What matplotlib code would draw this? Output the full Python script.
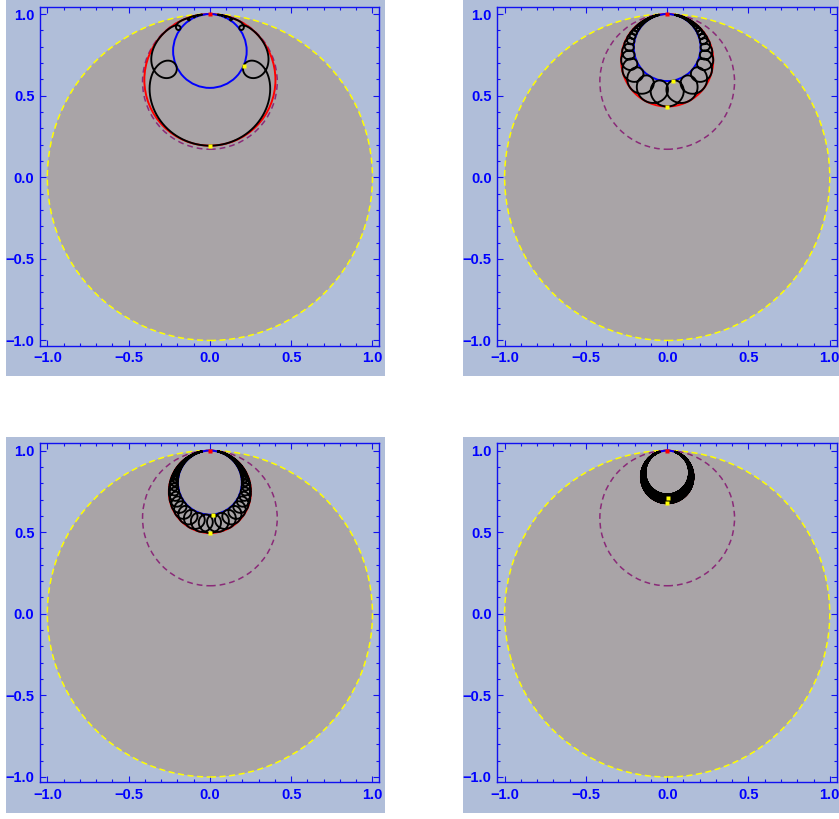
import numpy as np
import matplotlib
matplotlib.use("Agg")
import matplotlib.pyplot as plt
from matplotlib.patches import Circle, Rectangle

# ---- data: horocycle heights in the upper half-plane picture ----
red_c = [1.48, 2.53, 2.96, 5.19]      # outer horocycle (red), touched by the trace
blue_c = [3.42, 3.87, 4.09, 5.92]     # inner horocycle (blue)
top_c = [3.42, 3.87, 4.09, 6.45]      # inner envelope of the trace loops
periods = [5.8, 0.89, 0.53, 0.12]     # translation per revolution of the trace
warp = [4.0, 1.24, 1.18, 1.13]        # angular speed ratio (top vs. side) of the tracing point
purple_c = 1.4142                     # reference horocycle (dashed purple)
trace_range = 40.0                    # half range of the traced parameter

tick_major = [-1.0, -0.5, 0.0, 0.5, 1.0]
tick_labels = ["\u22121.0", "\u22120.5", "0.0", "0.5", "1.0"]
tick_minor = [round(-1.0 + 0.1 * k, 1) for k in range(21)]

BG = "#B0BED9"
DISK = "#A9A4A7"
AXBLUE = "#1010F0"
PURPLE = "#8A2A78"

plt.rcParams["font.family"] = ["Liberation Sans", "DejaVu Sans"]

W, H = 839, 819
fig = plt.figure(figsize=(W / 100, H / 100), dpi=100)
fig.patch.set_facecolor("white")


def to_disk(w):
    return 1j * (w - 1j) / (w + 1j)


def horo_circle(c):
    b = (c - 1) / (c + 1)
    return (1 + b) / 2, (1 - b) / 2


def trace(cr, ct, cb, L, k):
    c0 = 0.5 * (ct + cr)
    R = 0.5 * (ct - cr)
    n = int(max(20000, 2 * trace_range / L * 100))
    xc = np.linspace(-trace_range, trace_range, n)
    phi = 2 * np.pi * (xc - L / 2) / L
    s, c = np.sin(phi / 2), np.cos(phi / 2)
    beta = phi + 2 * np.arctan2((k - 1) * s * c, c * c + k * s * s)
    w = (xc - R * np.sin(beta)) + 1j * (c0 + R * np.cos(beta))
    z = to_disk(w)
    top = to_disk(L / 2 + 1j * cb)
    bot = to_disk(1j * cr)
    return z, top, bot


# panel geometry in pixels (top-left origin)
bg_w, bg_h = 378.5, 376.5
offsets = [(6, 0), (463.3, 0), (6, 436.5), (463.3, 436.5)]
ax_rel = (34.0, 6.7, 339.3, 339.0)  # left, top, width, height relative to bg

for i, (ox, oy) in enumerate(offsets):
    fig.patches.append(Rectangle((ox / W, 1 - (oy + bg_h) / H), bg_w / W, bg_h / H,
                                 transform=fig.transFigure, facecolor=BG,
                                 edgecolor="none", zorder=-10))
    l, t, aw, ah = ax_rel
    ax = fig.add_axes([(ox + l) / W, 1 - (oy + t + ah) / H, aw / W, ah / H])
    ax.set_zorder(5)
    ax.set_facecolor(BG)
    ax.set_xlim(-1.045, 1.042)
    ax.set_ylim(-1.032, 1.045)
    ax.set_aspect("auto")

    ax.add_patch(Circle((0, 0), 1.0, facecolor=DISK, edgecolor="none", zorder=1))
    ax.add_patch(Circle((0, 0), 1.0, facecolor="none", edgecolor="#FFFF00",
                        lw=1.1, ls=(0, (4.0, 2.3)), zorder=2))
    cy, r = horo_circle(purple_c)
    ax.add_patch(Circle((0, cy), r, facecolor="none", edgecolor=PURPLE,
                        lw=1.1, ls=(0, (3.8, 2.6)), zorder=2))
    cy, r = horo_circle(red_c[i])
    ax.add_patch(Circle((0, cy), r, facecolor="none", edgecolor="#FF0000",
                        lw=1.4, zorder=3))
    cy, r = horo_circle(blue_c[i])
    ax.add_patch(Circle((0, cy), r, facecolor="none", edgecolor="#0000FF",
                        lw=1.4, zorder=3))

    z, top, bot = trace(red_c[i], top_c[i], blue_c[i], periods[i], warp[i])
    ax.plot(z.real, z.imag, color="black", lw=1.35, zorder=4,
            solid_joinstyle="round")
    ax.plot([top.real, bot.real], [top.imag, bot.imag], "s", ms=2.4,
            color="#FFFF00", mec="none", zorder=6)
    ax.plot([0], [1], "s", ms=2.6, color="#FF0000", mec="none", zorder=6)

    for s_ in ax.spines.values():
        s_.set_color(AXBLUE)
        s_.set_linewidth(1.0)
    ax.set_xticks(tick_major)
    ax.set_yticks(tick_major)
    ax.set_xticklabels(tick_labels)
    ax.set_yticklabels(tick_labels)
    ax.set_xticks(tick_minor, minor=True)
    ax.set_yticks(tick_minor, minor=True)
    ax.tick_params(which="both", direction="in", top=True, right=True,
                   color=AXBLUE, width=0.8)
    ax.tick_params(which="major", length=4.0, labelsize=10.5,
                   labelcolor="#0000FF", pad=4)
    ax.tick_params(which="minor", length=2.0)
    for lab in ax.get_xticklabels() + ax.get_yticklabels():
        lab.set_fontweight("bold")

fig.savefig("out.png", dpi=100, facecolor="white")
